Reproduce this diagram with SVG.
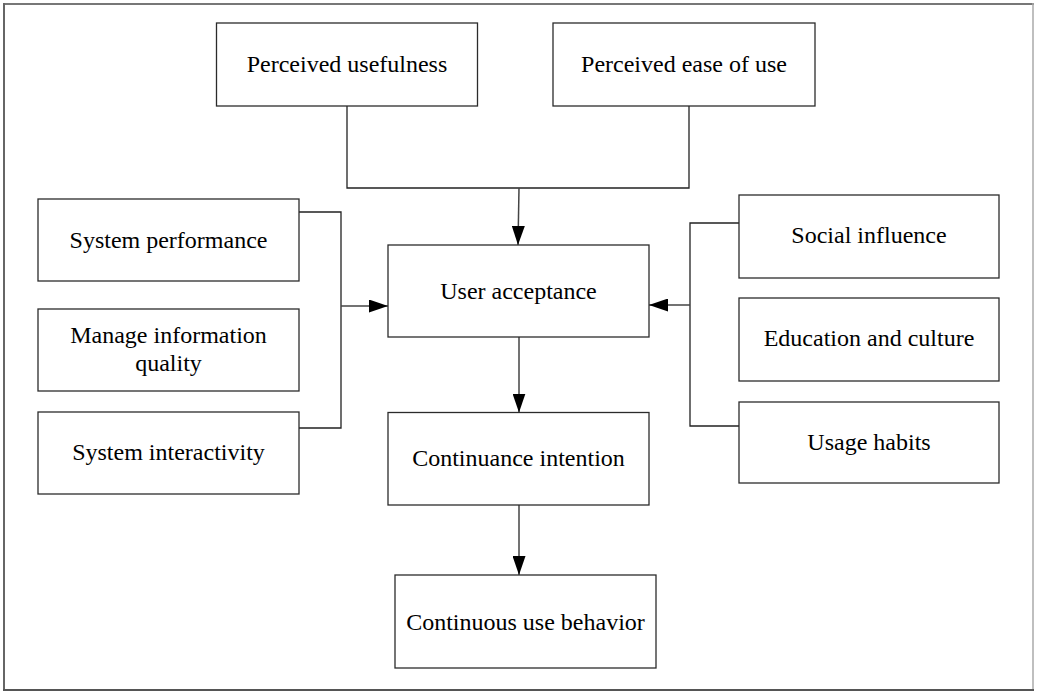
<svg xmlns="http://www.w3.org/2000/svg" width="1037" height="692" viewBox="0 0 1037 692">
  <style>
    .box { fill: #ffffff; stroke: #2b2b2b; stroke-width: 1.3; }
    .lbl { font-family: "Liberation Serif", "Times New Roman", serif; font-size: 24px; fill: #000; text-anchor: middle; }
    .conn { fill: none; stroke: #222; stroke-width: 1.3; }
    .arr { fill: none; stroke: #444; stroke-width: 1.5; marker-end: url(#ah); }
  </style>
  <defs>
    <marker id="ah" viewBox="0 0 19 13" refX="19" refY="6.5" markerWidth="19" markerHeight="13" markerUnits="userSpaceOnUse" orient="auto">
      <path d="M0,0 L19,6.5 L0,13 Z" fill="#000"/>
    </marker>
  </defs>
  <rect x="0" y="0" width="1037" height="692" fill="#ffffff"/>
  <g id="frame">
    <line x1="3" y1="4" x2="1034" y2="4" stroke="#777" stroke-width="2"/>
    <line x1="4" y1="3" x2="4" y2="690" stroke="#666" stroke-width="2"/>
    <line x1="1033" y1="3" x2="1033" y2="690" stroke="#aaa" stroke-width="1.5"/>
    <line x1="3" y1="690" x2="1034" y2="690" stroke="#555" stroke-width="2"/>
  </g>
  <g id="connectors">
    <polyline class="conn" points="347,106 347,188 689,188 689,106"/>
    <line class="arr" x1="519" y1="188" x2="518" y2="245"/>
    <polyline class="conn" points="299,212 341,212 341,428 299,428"/>
    <line class="arr" x1="341" y1="306" x2="388" y2="306"/>
    <polyline class="conn" points="739,223 690,223 690,426 739,426"/>
    <line class="arr" x1="690" y1="305" x2="649" y2="305"/>
    <line class="arr" x1="519" y1="337" x2="519" y2="412.5"/>
    <line class="arr" x1="519" y1="505" x2="519" y2="575"/>
  </g>
  <g id="perceived-usefulness">
    <rect class="box" x="216.5" y="23" width="261" height="83"/>
    <text class="lbl" x="347" y="72">Perceived usefulness</text>
  </g>
  <g id="perceived-ease-of-use">
    <rect class="box" x="553" y="23" width="262" height="83"/>
    <text class="lbl" x="684" y="72">Perceived ease of use</text>
  </g>
  <g id="system-performance">
    <rect class="box" x="38" y="199" width="261" height="82"/>
    <text class="lbl" x="168.5" y="248">System performance</text>
  </g>
  <g id="manage-information-quality">
    <rect class="box" x="38" y="309" width="261" height="82"/>
    <text class="lbl" x="168.5" y="343">Manage information</text>
    <text class="lbl" x="168.5" y="371">quality</text>
  </g>
  <g id="system-interactivity">
    <rect class="box" x="38" y="412" width="261" height="82"/>
    <text class="lbl" x="168.5" y="460">System interactivity</text>
  </g>
  <g id="social-influence">
    <rect class="box" x="739" y="195" width="260" height="83"/>
    <text class="lbl" x="869" y="243">Social influence</text>
  </g>
  <g id="education-and-culture">
    <rect class="box" x="739" y="298" width="260" height="83"/>
    <text class="lbl" x="869" y="346">Education and culture</text>
  </g>
  <g id="usage-habits">
    <rect class="box" x="739" y="402" width="260" height="81"/>
    <text class="lbl" x="869" y="450">Usage habits</text>
  </g>
  <g id="user-acceptance">
    <rect class="box" x="388" y="245" width="261" height="92"/>
    <text class="lbl" x="518.5" y="299">User acceptance</text>
  </g>
  <g id="continuance-intention">
    <rect class="box" x="388" y="412.5" width="261" height="92.5"/>
    <text class="lbl" x="518.5" y="466">Continuance intention</text>
  </g>
  <g id="continuous-use-behavior">
    <rect class="box" x="395" y="575" width="261" height="93"/>
    <text class="lbl" x="525.5" y="630">Continuous use behavior</text>
  </g>
</svg>
